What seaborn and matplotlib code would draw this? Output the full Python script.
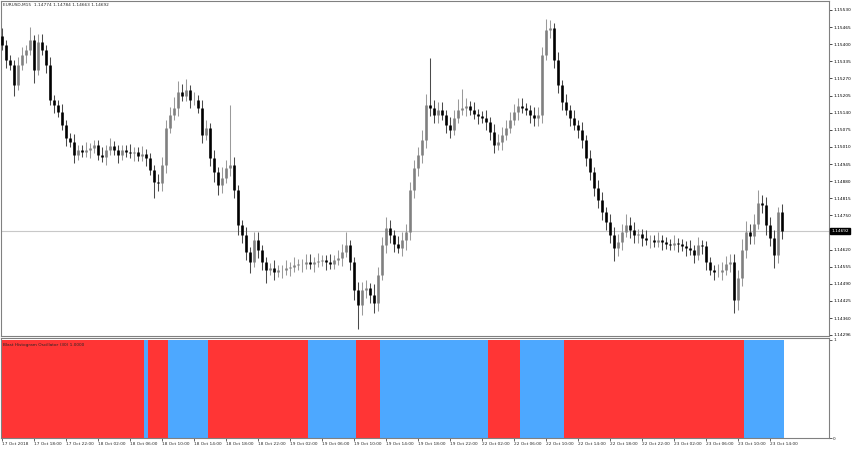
import numpy as np
import pandas as pd
import matplotlib
matplotlib.use("Agg")
import matplotlib.pyplot as plt
import matplotlib.transforms as mtransforms
import seaborn as sns

# EURUSD 30-min closes (17 Oct 14:00 -> 23 Oct 15:30)
first_open = 1.15430
closes = [
    1.15397, 1.15340, 1.15321, 1.15245, 1.15321, 1.15359, 1.15378, 1.15416, 1.15302, 1.15409,
    1.15378, 1.15321, 1.15188, 1.15169, 1.15143, 1.15093, 1.15044, 1.15029, 1.14979, 1.14998,
    1.14991, 1.14998, 1.15006, 1.15017, 1.14979, 1.14972, 1.14998, 1.15014, 1.14998, 1.14979,
    1.14998, 1.14991, 1.14987, 1.14991, 1.14976, 1.14983, 1.14968, 1.14922, 1.14877, 1.14873,
    1.14941, 1.15082, 1.15131, 1.15158, 1.15219, 1.15203, 1.15226, 1.15188, 1.15188, 1.15158,
    1.15055, 1.15082, 1.14968, 1.14915, 1.14866, 1.14892, 1.14930, 1.14941, 1.14847, 1.14714,
    1.14676, 1.14611, 1.14573, 1.14657, 1.14619, 1.14573, 1.14543, 1.14550, 1.14535, 1.14543,
    1.14543, 1.14550, 1.14554, 1.14562, 1.14566, 1.14566, 1.14573, 1.14566, 1.14573, 1.14577,
    1.14581, 1.14573, 1.14566, 1.14581, 1.14588, 1.14611, 1.14638, 1.14573, 1.14467, 1.14410,
    1.14467, 1.14474, 1.14448, 1.14418, 1.14524, 1.14638, 1.14702, 1.14676, 1.14642, 1.14626,
    1.14657, 1.14687, 1.14847, 1.14930, 1.14979, 1.15036, 1.15169, 1.15158, 1.15131, 1.15150,
    1.15131, 1.15093, 1.15074, 1.15120, 1.15150, 1.15158, 1.15166, 1.15150, 1.15135, 1.15128,
    1.15120, 1.15105, 1.15067, 1.15017, 1.15029, 1.15055, 1.15082, 1.15112, 1.15143, 1.15166,
    1.15158, 1.15150, 1.15131, 1.15120, 1.15131, 1.15359, 1.15454, 1.15462, 1.15340, 1.15245,
    1.15181, 1.15150, 1.15120, 1.15093, 1.15074, 1.15036, 1.14968, 1.14915, 1.14854, 1.14809,
    1.14763, 1.14725, 1.14676, 1.14626, 1.14649, 1.14687, 1.14714, 1.14695, 1.14676, 1.14680,
    1.14664, 1.14657, 1.14657, 1.14649, 1.14657, 1.14649, 1.14642, 1.14638, 1.14645, 1.14642,
    1.14634, 1.14626, 1.14619, 1.14600, 1.14638, 1.14634, 1.14573, 1.14543, 1.14535, 1.14535,
    1.14543, 1.14566, 1.14573, 1.14429, 1.14512, 1.14619, 1.14687, 1.14672, 1.14717, 1.14797,
    1.14790, 1.14714, 1.14664, 1.14600, 1.14763, 1.14692,
]
# wick lengths above / below the body, in pips
upper_wick = [
    3, 2, 2, 2, 3, 3, 2, 5, 2, 3, 3, 2, 3, 2, 2, 3, 2, 2, 3, 2,
    2, 3, 2, 2, 2, 3, 2, 3, 2, 2, 2, 2, 3, 2, 2, 3, 2, 2, 2, 3,
    3, 3, 3, 4, 4, 3, 4, 2, 3, 2, 3, 3, 2, 3, 2, 4, 3, 23, 3, 2,
    2, 3, 2, 3, 3, 2, 2, 2, 3, 2, 2, 3, 2, 3, 2, 2, 3, 3, 2, 3,
    2, 2, 3, 2, 3, 3, 5, 2, 2, 3, 3, 3, 2, 4, 3, 3, 4, 3, 2, 3,
    3, 3, 3, 3, 3, 4, 4, 18, 3, 3, 3, 2, 3, 3, 4, 7, 3, 2, 3, 2,
    2, 3, 2, 3, 3, 3, 3, 3, 3, 3, 3, 2, 2, 3, 3, 3, 4, 3, 2, 3,
    2, 3, 2, 3, 2, 3, 2, 3, 2, 3, 3, 2, 3, 3, 3, 3, 4, 3, 3, 2,
    2, 3, 2, 2, 3, 2, 2, 2, 3, 2, 2, 2, 3, 2, 3, 2, 2, 2, 2, 3,
    3, 3, 3, 3, 3, 4, 4, 3, 4, 5, 3, 3, 3, 3, 2, 3,
]
lower_wick = [
    2, 3, 2, 4, 2, 2, 3, 2, 5, 2, 2, 3, 2, 3, 2, 2, 3, 2, 3, 2,
    2, 2, 3, 2, 2, 2, 3, 2, 2, 3, 2, 2, 2, 3, 2, 2, 3, 2, 6, 3,
    3, 3, 2, 2, 3, 2, 2, 3, 2, 2, 3, 2, 3, 4, 4, 3, 2, 3, 3, 4,
    3, 3, 4, 2, 3, 3, 5, 2, 3, 2, 3, 2, 3, 2, 2, 3, 2, 2, 3, 2,
    2, 3, 2, 2, 2, 3, 2, 3, 4, 9, 4, 3, 3, 4, 3, 2, 3, 3, 3, 2,
    3, 4, 3, 3, 3, 3, 3, 3, 3, 3, 2, 3, 3, 2, 2, 2, 3, 2, 2, 3,
    2, 3, 3, 3, 2, 3, 2, 2, 2, 3, 2, 2, 3, 3, 3, 3, 2, 3, 3, 3,
    3, 2, 3, 2, 3, 3, 3, 3, 3, 3, 3, 3, 3, 5, 3, 3, 2, 3, 3, 3,
    3, 2, 3, 2, 2, 3, 2, 2, 2, 3, 2, 3, 2, 3, 2, 3, 3, 2, 3, 2,
    3, 2, 3, 5, 4, 3, 3, 3, 3, 2, 3, 4, 3, 5, 3, 3,
]

# oscillator state, as runs of bars
run_signal = ["sell", "buy", "sell", "buy", "sell", "buy", "sell", "buy", "sell", "buy", "sell", "buy"]
run_length = [36, 1, 5, 10, 25, 12, 6, 27, 8, 11, 45, 10]

time_labels = [
    "17 Oct 2018", "17 Oct 18:00", "17 Oct 22:00", "18 Oct 02:00", "18 Oct 06:00",
    "18 Oct 10:00", "18 Oct 14:00", "18 Oct 18:00", "18 Oct 22:00", "19 Oct 02:00",
    "19 Oct 06:00", "19 Oct 10:00", "19 Oct 14:00", "19 Oct 18:00", "19 Oct 22:00",
    "22 Oct 02:00", "22 Oct 06:00", "22 Oct 10:00", "22 Oct 14:00", "22 Oct 18:00",
    "22 Oct 22:00", "23 Oct 02:00", "23 Oct 06:00", "23 Oct 10:00", "23 Oct 14:00",
]
price_ticks = [1.15530, 1.15465, 1.15400, 1.15335, 1.15270, 1.15205, 1.15140, 1.15075,
               1.15010, 1.14945, 1.14880, 1.14815, 1.14750, 1.14620, 1.14555, 1.14490,
               1.14425, 1.14360, 1.14296]
last_price = 1.14692
header = "EURUSD,M15  1.14774 1.14784 1.14663 1.14692"
osc_name = "Blast Histogram Oscillator (30) 1.0000"

sns.set_style("white")
plt.rcParams["font.family"] = ["DejaVu Sans"]
fs = 3.1
frame = "#808080"

n = len(closes)
idx = np.arange(n)
close = np.array(closes)
opens = np.concatenate([[first_open], close[:-1]])
top = np.maximum(opens, close)
bot = np.minimum(opens, close)
high = top + np.array(upper_wick) * 0.0001
low = bot - np.array(lower_wick) * 0.0001
bull = close >= opens

fig = plt.figure(figsize=(8.52, 4.5), dpi=100)
ax = fig.add_axes([1 / 852, 1 - 336 / 450, 828 / 852, 335 / 450])
ax2 = fig.add_axes([1 / 852, 1 - 438 / 450, 828 / 852, 100 / 450])

# price candles
ax.axhline(last_price, color="#c8c8c8", lw=0.8, zorder=1)
ax.vlines(idx[bull], low[bull], high[bull], color="#9a9a9a", lw=0.75, zorder=2)
ax.vlines(idx[~bull], low[~bull], high[~bull], color="#4a4a4a", lw=0.75, zorder=2)
ax.vlines(idx[bull], bot[bull], top[bull], color="#808080", lw=1.9, zorder=3)
ax.vlines(idx[~bull], bot[~bull], top[~bull], color="#000000", lw=1.9, zorder=3)

ax.set_xlim(-0.25, 206.75)
ax.set_ylim(1.14292, 1.15564)
ax.set_xticks([])
ax.yaxis.tick_right()
ax.set_yticks(price_ticks)
ax.set_yticklabels([f"{p:.5f}" for p in price_ticks])
ax.tick_params(axis="y", right=True, length=2, width=0.5, pad=1, labelsize=fs, colors="#000000")
for s in ax.spines.values():
    s.set_color(frame)
    s.set_linewidth(0.8)

trans = mtransforms.blended_transform_factory(ax.transAxes, ax.transData)
ax.text(1.0025, last_price, f"{last_price:.5f}", transform=trans, fontsize=fs, color="white",
        va="center", ha="left", bbox=dict(facecolor="black", edgecolor="black", pad=0.8))
fig.text(3 / 852, 1 - 5 / 450, header, fontsize=fs, va="center", ha="left")

# oscillator histogram
signal = [s for s, k in zip(run_signal, run_length) for _ in range(k)]
osc = pd.DataFrame({"bar": idx, "value": np.ones(n), "signal": signal})
sns.barplot(data=osc, x="bar", y="value", hue="signal", native_scale=True, dodge=False,
            palette={"sell": "#ff3535", "buy": "#4da8ff"}, saturation=1, width=0.8,
            linewidth=0, legend=False, ax=ax2)
ax2.set_xlim(-0.25, 206.75)
ax2.set_ylim(0, 1.02)
ax2.set_xlabel("")
ax2.set_ylabel("")
ax2.yaxis.tick_right()
ax2.set_yticks([0, 1])
ax2.set_yticklabels(["0", "1"])
ax2.tick_params(axis="y", right=True, length=2, width=0.5, pad=1, labelsize=fs)
ax2.set_xticks(np.arange(0, n, 8)[:len(time_labels)])
ax2.set_xticklabels(time_labels, ha="left")
ax2.tick_params(axis="x", bottom=True, length=2, width=0.5, pad=1, labelsize=fs)
for s in ax2.spines.values():
    s.set_color(frame)
    s.set_linewidth(0.8)
ax2.text(0.003, 0.95, osc_name, transform=ax2.transAxes, fontsize=fs, va="top", ha="left")

fig.savefig("out.png", dpi=100)
